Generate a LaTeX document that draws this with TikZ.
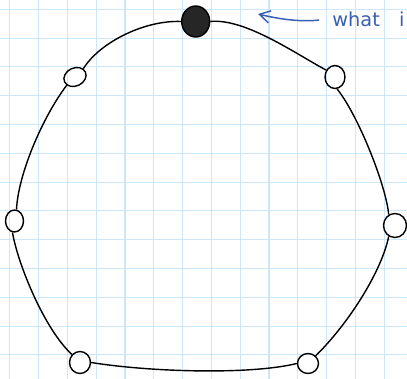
\documentclass[tikz,border=0pt]{standalone}
\usepackage{fontspec}
\newfontfamily\handfont{DejaVu Sans}
\usetikzlibrary{shapes.geometric,arrows.meta}
\definecolor{gridblue}{RGB}{204,230,250}
\definecolor{inkblue}{RGB}{58,96,178}
\begin{document}
\begin{tikzpicture}[x=0.02cm, y=-0.02cm,
    ring/.style={ellipse, draw, line width=0.8pt, inner sep=0pt},
    edge/.style={line width=0.8pt},
    gridline/.style={gridblue, line width=0.6pt}
]
\useasboundingbox (0,0) rectangle (407,379);
\fill[white] (0,0) rectangle (407,379);
% grid paper
\foreach \i in {0,...,13} {
    \draw[gridline] (9.8+\i*28.8,0) -- (9.8+\i*28.8,379);
}
\foreach \j in {0,...,12} {
    \draw[gridline] (0,9.3+\j*28.8) -- (407,9.3+\j*28.8);
}

% ring of nodes
\node[ring, fill=black!85, minimum width=0.56cm, minimum height=0.62cm] (n0) at (195.7,21.5) {};
\node[ring, minimum width=0.40cm, minimum height=0.46cm] (n1) at (335,77) {};
\node[ring, minimum width=0.46cm, minimum height=0.48cm] (n2) at (395,225.5) {};
\node[ring, minimum width=0.42cm, minimum height=0.40cm] (n3) at (308,363.5) {};
\node[ring, minimum width=0.42cm, minimum height=0.44cm] (n4) at (80,362.5) {};
\node[ring, minimum width=0.36cm, minimum height=0.44cm] (n5) at (14.5,221) {};
\node[ring, minimum width=0.46cm, minimum height=0.36cm, rotate=25] (n6) at (75,77) {};

% the loop
\draw[edge] (n0.east) .. controls (245,18) and (296,54) .. (n1.142);
\draw[edge] (n1.-80) .. controls (358,115) and (386,185) .. (n2.120);
\draw[edge] (n2.-120) .. controls (382,270) and (350,322) .. (n3.45);
\draw[edge] (n3.west) .. controls (250,375) and (150,372) .. (n4.east);
\draw[edge] (n4.135) .. controls (45,330) and (18,265) .. (n5.-100);
\draw[edge] (n5.80) .. controls (18,175) and (42,118) .. (n6.-160);
\draw[edge] (n6.20) .. controls (100,42) and (145,20) .. (n0.west);

% note
\node[inkblue, anchor=base west, inner sep=0pt, font=\handfont\fontsize{11}{13}\selectfont] (lbl) at (332,26) {what\quad i};
\coordinate (tip) at (258,14);
\draw[inkblue, line width=0.85pt, shorten <=0.26cm, -{Straight Barb[length=6pt,width=7pt]}]
    (lbl.west) .. controls +(-30,3) and +(25,6) .. (tip);
\end{tikzpicture}
\end{document}
